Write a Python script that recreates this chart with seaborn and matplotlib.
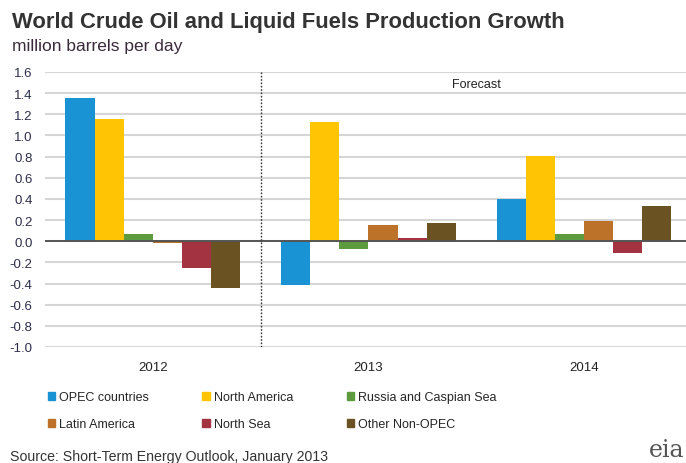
import pandas as pd
import matplotlib.pyplot as plt
import seaborn as sns
from matplotlib.patches import Patch

# Values (million barrels per day)
years = ['2012', '2013', '2014']
regions = ['OPEC countries', 'North America', 'Russia and Caspian Sea',
           'Latin America', 'North Sea', 'Other Non-OPEC']
opec = [1.35, -0.41, 0.40]
north_america = [1.16, 1.13, 0.81]
russia_caspian = [0.07, -0.07, 0.065]
latin_america = [-0.02, 0.15, 0.19]
north_sea = [-0.25, 0.035, -0.11]
other_non_opec = [-0.44, 0.17, 0.33]
colors = ['#1a93d4', '#ffc404', '#5e9b3e', '#bd7229', '#a33340', '#6a5222']
yticks = [-1.0, -0.8, -0.6, -0.4, -0.2, 0.0, 0.2, 0.4, 0.6, 0.8, 1.0, 1.2, 1.4, 1.6]

series = [opec, north_america, russia_caspian, latin_america, north_sea, other_non_opec]
df = pd.DataFrame([
    {'Year': y, 'Region': r, 'Growth': vals[i]}
    for r, vals in zip(regions, series)
    for i, y in enumerate(years)
])

sns.set_style('white')
plt.rcParams['font.family'] = ['Liberation Sans', 'DejaVu Sans']

fig = plt.figure(figsize=(6.86, 4.64), dpi=100)
ax = fig.add_axes([0.0656, 0.25, 0.943, 0.5927])

sns.barplot(data=df, x='Year', y='Growth', hue='Region', order=years,
            hue_order=regions, palette=colors, width=0.81, saturation=1,
            linewidth=0, legend=False, ax=ax)

ax.set_ylim(-1.0, 1.6)
ax.set_xlim(-0.5, 2.5)
ax.set_yticks(yticks)
ax.set_yticklabels([f'{t:.1f}' for t in yticks], color='#2b2f4a', fontsize=9.5)
ax.tick_params(axis='y', length=0, pad=9)
ax.tick_params(axis='x', length=0, pad=10, labelsize=9.5, labelcolor='#222222')
ax.set_xlabel('')
ax.set_ylabel('')
ax.grid(axis='y', color='#d6d6d6', linewidth=1.5, zorder=0)
ax.set_axisbelow(True)
ax.axhline(0, color='#555555', linewidth=1.4, zorder=3)
ax.axvline(0.5, color='#333333', linewidth=1, linestyle=(0, (1.2, 1.2)), zorder=3)
for s in ax.spines.values():
    s.set_visible(False)

ax.text(1.5, 1.49, 'Forecast', ha='center', va='center', fontsize=9, color='#222222')

fig.text(0.0175, 0.952, 'World Crude Oil and Liquid Fuels Production Growth',
         fontsize=15.8, fontweight='bold', color='#333333', va='center')
fig.text(0.0175, 0.9, 'million barrels per day', fontsize=12.5,
         color='#3a2b3a', va='center')
fig.text(0.015, 0.015, 'Source: Short-Term Energy Outlook, January 2013',
         fontsize=10.2, color='#333333', va='center')
fig.text(0.998, 0.004, 'eia', fontsize=17, color='#555555', va='bottom',
         ha='right', family='DejaVu Serif')

# legend laid out row by row (matplotlib fills columns first)
handles = [Patch(color=c, label=r) for r, c in zip(regions, colors)]
order = [0, 3, 1, 4, 2, 5]
fig.legend([handles[i] for i in order], [regions[i] for i in order],
           ncol=3, loc='upper left', bbox_to_anchor=(0.062, 0.165),
           frameon=False, fontsize=9, handlelength=0.6, handleheight=0.6,
           handletextpad=0.3, columnspacing=4.3, labelspacing=1.2,
           borderaxespad=0)

fig.savefig('out.png', dpi=100)
